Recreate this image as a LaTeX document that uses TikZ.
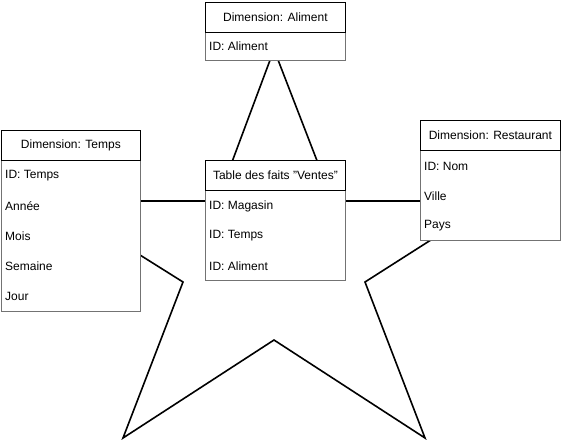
\documentclass[tikz,border=0pt]{standalone}
\usepackage{fontspec}
\setmainfont{Liberation Sans}

\begin{document}
\begin{tikzpicture}[x=1pt,y=-1pt,font=\fontsize{12}{14}\selectfont]
\tikzset{
  head/.style={draw=black,fill=white,line width=0.8pt,minimum width=140pt,minimum height=30pt,inner sep=0pt,anchor=north west},
  body/.style={draw=black!55,fill=white,line width=0.7pt,minimum width=140pt,inner sep=0pt,anchor=north west},
  field/.style={anchor=west,inner sep=0pt},
  starline/.style={line width=1.6pt,line join=miter}
}
\useasboundingbox (0,0) rectangle (561,439);
% star behind the tables
\coordinate (top) at (274,49.5);
\coordinate (innerNE) at (332.6,201);
\coordinate (tipE) at (492,201);
\coordinate (innerSE) at (365,282);
\coordinate (tipSE) at (425,438);
\coordinate (innerS) at (274,340);
\coordinate (tipSW) at (123,438);
\coordinate (innerSW) at (183,282);
\coordinate (tipW) at (54,201);
\coordinate (innerNW) at (217.4,201);
\draw [starline] (top) -- (innerNE) -- (tipE) -- (innerSE) -- (tipSE) -- (innerS)
  -- (tipSW) -- (innerSW) -- (tipW) -- (innerNW) -- cycle;
% Dimension: Aliment
\node [body,minimum height=28pt] (alimentBody) at (205,32) {};
\node [head] (alimentHead) at (205,2) {Dimension: Aliment};
\node [field] (alimentId) at (209,46) {ID: Aliment};
% Dimension: Temps
\node [body,minimum width=139pt,minimum height=151pt] (tempsBody) at (1,160) {};
\node [head,minimum width=139pt] (tempsHead) at (1,130) {Dimension: Temps};
\node [field] (tempsId) at (5,176) {ID: Temps};
\node [field] (tempsAnnee) at (5,206) {Année};
\node [field] (tempsMois) at (5,236) {Mois};
\node [field] (tempsSemaine) at (5,266) {Semaine};
\node [field] (tempsJour) at (5,296) {Jour};
% Table des faits
\node [body,minimum height=90pt] (faitsBody) at (205,190) {};
\node [head] (faitsHead) at (205,160) {Table des faits "Ventes"};
\node [field] (faitsMagasin) at (209,206) {ID: Magasin};
\node [field] (faitsTemps) at (209,236) {ID: Temps};
\node [field] (faitsAliment) at (209,266) {ID: Aliment};
% Dimension: Restaurant
\node [body,minimum height=90pt] (restoBody) at (420,150) {};
\node [head] (restoHead) at (420,120) {Dimension: Restaurant};
\node [field] (restoNom) at (424,166) {ID: Nom};
\node [field] (restoVille) at (424,196) {Ville};
\node [field] (restoPays) at (424,226) {Pays};
\end{tikzpicture}
\end{document}
